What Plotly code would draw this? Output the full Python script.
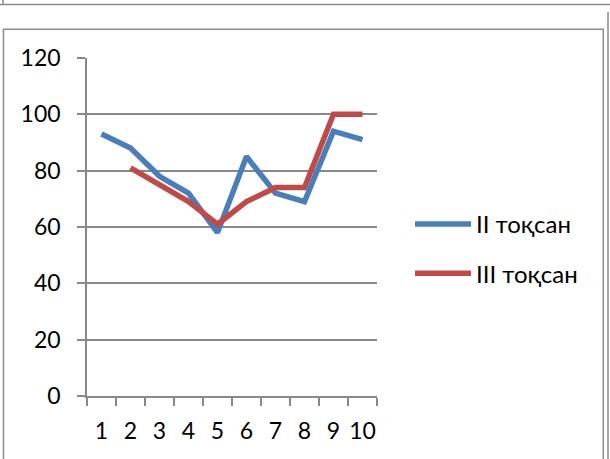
import plotly.graph_objects as go

categories = ["1", "2", "3", "4", "5", "6", "7", "8", "9", "10"]
q2_values = [93, 88, 78, 72, 58, 85, 72, 69, 94, 91]
q3_values = [None, 81, 75, 69, 61, 69, 74, 74, 100, 100]
series_names = ["II тоқсан", "III тоқсан"]
y_ticks = [0, 20, 40, 60, 80, 100, 120]

W, H = 610, 459
L, R, T, B = 87, 233, 58, 63
PW, PH = W - L - R, H - T - B

def px(x):
    return (x - L) / PW

def py(y):
    return (H - B - y) / PH

FONT = "Lato, Open Sans, sans-serif"
GRID = "#898989"
FRAME = "#8c8c8c"

fig = go.Figure()
fig.add_trace(go.Scatter(x=categories, y=q2_values, name=series_names[0], mode="lines",
                         line=dict(color="#4A7EBB", width=5.5), legendgroup="a"))
fig.add_trace(go.Scatter(x=categories, y=q3_values, name=series_names[1], mode="lines",
                         line=dict(color="#BE4B48", width=5.5), legendgroup="b",
                         connectgaps=False))

shapes = [
    dict(type="line", xref="paper", yref="paper", x0=px(0), x1=px(610), y0=py(4.5), y1=py(4.5),
         line=dict(color=FRAME, width=1.5)),
    dict(type="line", xref="paper", yref="paper", x0=px(3), x1=px(3), y0=py(-2), y1=py(4.5),
         line=dict(color=FRAME, width=1.5)),
    dict(type="rect", xref="paper", yref="paper", x0=px(3.5), x1=px(603.3), y0=py(470), y1=py(29.3),
         line=dict(color=FRAME, width=1.5)),
    dict(type="line", xref="paper", yref="paper", x0=px(608), x1=px(608), y0=py(12), y1=py(470),
         line=dict(color=FRAME, width=1.5)),
]

fig.update_layout(
    width=W, height=H,
    margin=dict(l=L, r=R, t=T, b=B),
    paper_bgcolor="white", plot_bgcolor="white",
    font=dict(family=FONT, size=23, color="black"),
    showlegend=True,
    legend=dict(x=px(410), y=py(202), xanchor="left", yanchor="top",
                itemwidth=56, tracegroupgap=15, traceorder="grouped",
                font=dict(family=FONT, size=24, color="black"),
                bgcolor="rgba(0,0,0,0)", borderwidth=0),
    shapes=shapes,
    xaxis=dict(type="category", range=[-0.5, 9.5], tickson="boundaries", ticks="outside", ticklen=8,
               tickcolor=GRID, tickwidth=1.5, showline=True, linecolor=GRID, linewidth=1.5,
               showgrid=False, zeroline=False, ticklabelstandoff=14, tickangle=0,
               tickfont=dict(family=FONT, size=23)),
    yaxis=dict(range=[0, 120], tickvals=y_ticks, ticks="outside", ticklen=8,
               tickcolor=GRID, tickwidth=1.5, showline=True, linecolor=GRID, linewidth=1.5,
               showgrid=True, gridcolor=GRID, gridwidth=1.5, zeroline=False,
               ticklabelstandoff=12, tickfont=dict(family=FONT, size=23)),
)

fig.write_html("out.html", config={"displayModeBar": False},
               post_script="document.body.style.margin='0';")
